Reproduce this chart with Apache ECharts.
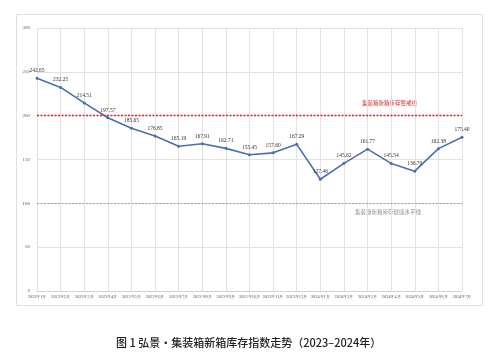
<!DOCTYPE html>
<html><head><meta charset="utf-8">
<script src="https://cdn.jsdelivr.net/npm/echarts@6/dist/echarts.min.js"></script>
<style>html,body{margin:0;padding:0;background:#fff}#c{width:497px;height:358px}</style>
</head><body><div id="c"></div>
<script>
const categories = ['2023年1月','2023年2月','2023年3月','2023年4月','2023年5月','2023年6月','2023年7月','2023年8月','2023年9月','2023年10月','2023年11月','2023年12月','2024年1月','2024年2月','2024年3月','2024年4月','2024年5月','2024年6月','2024年7月'];
const values = [242.65,232.25,214.51,197.57,185.65,176.85,165.19,167.91,162.71,155.45,157.60,167.29,127.46,145.62,161.77,145.54,136.70,162.38,175.40];
const warnLevel = 200;
const healthLevel = 100;
const warnText = '集装箱新箱库存警戒线';
const healthText = '集装箱新箱库存健康水平线';
const titleText = '图 1 弘景·集装箱新箱库存指数走势（2023–2024年）';

const chart = echarts.init(document.getElementById('c'));
chart.setOption({
  animation:false,
  grid:{left:37,right:35,top:28,bottom:67},
  xAxis:{type:'category',data:categories,boundaryGap:false,
    axisLine:{lineStyle:{color:'#d0d0d0'}},axisTick:{show:false},
    axisLabel:{fontSize:4.3,color:'#555',interval:0,margin:4,fontFamily:'Liberation Serif'},
    splitLine:{show:true,lineStyle:{color:'#e2e2e2',width:1}}},
  yAxis:{type:'value',min:0,max:300,interval:50,
    axisLine:{show:false},axisTick:{show:false},
    axisLabel:{fontSize:5,color:'#555',margin:7,fontFamily:'Liberation Serif'},
    splitLine:{lineStyle:{color:'#e2e2e2',width:1}}},
  series:[{type:'line',data:values,symbol:'circle',symbolSize:3,
    lineStyle:{color:'#4a6fae',width:1.6},itemStyle:{color:'#4a6fae'},
    label:{show:true,position:'top',distance:3,fontSize:5.5,color:'#333',fontFamily:'Liberation Serif',
      formatter:p=>p.value.toFixed(2)},
    markLine:{symbol:'none',silent:true,label:{show:false},
      data:[{yAxis:warnLevel,lineStyle:{color:'#d9262b',type:[2,1.5],width:1.4}},
            {yAxis:healthLevel,lineStyle:{color:'#a0a0a0',type:[2,1.5],width:1.2}}]}
  }],
  graphic:[
    {type:'rect',left:14,top:12,shape:{width:466,height:291},style:{fill:'none',stroke:'#e0e0e0',lineWidth:1},z:-1},
    {type:'text',left:362,top:100,style:{text:warnText,fontSize:5.5,fill:'#d9262b',fontFamily:'Noto Sans CJK SC'}},
    {type:'text',left:355,top:209,style:{text:healthText,fontSize:5.5,fill:'#909090',fontFamily:'Noto Sans CJK SC'}},
    {type:'text',left:116,top:337,style:{text:titleText,fontSize:11,fill:'#222',fontFamily:'Noto Sans CJK SC',fontWeight:'500'}}
  ]
});
</script></body></html>
